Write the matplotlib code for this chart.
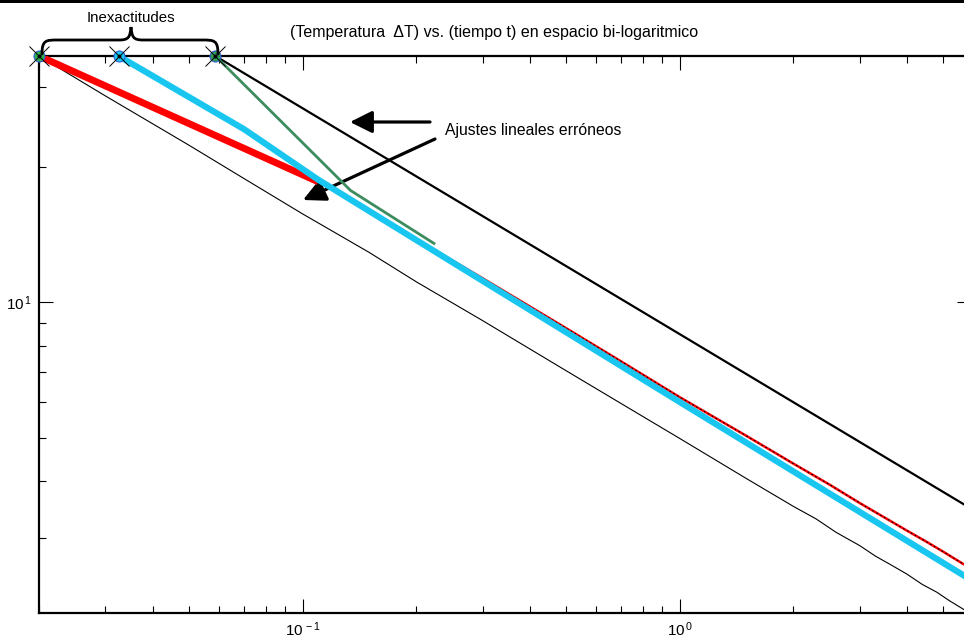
import numpy as np
import matplotlib
matplotlib.use("Agg")
import matplotlib.pyplot as plt
from matplotlib.path import Path
from matplotlib.patches import PathPatch, Rectangle
from matplotlib.ticker import FixedLocator, NullFormatter, FuncFormatter
import matplotlib.transforms as mtransforms

plt.rcParams['font.family'] = ['Liberation Sans', 'DejaVu Sans']
plt.rcParams['mathtext.fontset'] = 'custom'
plt.rcParams['mathtext.rm'] = 'Liberation Sans'
plt.rcParams['mathtext.it'] = 'Liberation Sans:italic'
plt.rcParams['mathtext.bf'] = 'Liberation Sans:bold'
plt.rcParams['mathtext.default'] = 'regular'

# ---- data ----
# measured data, thin black curve
t_data = [0.02, 0.03, 0.04, 0.05, 0.07, 0.1, 0.15, 0.2, 0.3, 0.5, 0.7, 1.0,
          1.5, 2.0, 2.3, 2.6, 3.0, 3.3, 3.6, 4.0, 4.4, 4.8, 5.2, 5.65, 5.95]
T_data = [35.2, 28.7, 24.9, 22.3, 18.8, 15.7, 12.9, 11.1, 9.1, 7.04, 5.95, 4.98,
          4.06, 3.52, 3.30, 3.08, 2.88, 2.73, 2.62, 2.49, 2.36, 2.27, 2.17, 2.08, 2.03]

# red data curve (thin red with black dotted overlay)
t_red = [0.11, 0.15, 0.2, 0.3, 0.5, 0.7, 1.0, 1.5, 2.0, 2.5, 3.0, 3.5, 4.0,
         4.5, 5.0, 5.65, 5.95]
T_red = [18.5, 16.0, 13.8, 11.3, 8.75, 7.38, 6.15, 5.05, 4.38, 3.93, 3.58, 3.32,
         3.11, 2.94, 2.79, 2.62, 2.56]

# erroneous linear fits
t_fit_red = [0.02, 0.11]
T_fit_red = [35.2, 18.5]

t_fit_cyan = [0.0325, 0.07, 0.110, 0.3, 1.0, 5.95]
T_fit_cyan = [35.2, 24.2, 18.7, 11.15, 6.0, 2.41]

t_fit_green = [0.0587, 0.134, 0.223]
T_fit_green = [35.2, 17.7, 13.5]

t_black = [0.0587, 5.95]
T_black = [35.2, 3.47]

# starting points ("Inexactitudes")
t_start = [0.02, 0.0325, 0.0587]
T_start = [35.2, 35.2, 35.2]
start_colors = ['#2FB050', '#19C6F0', '#2E9B57']

xticks_major = [0.1, 1.0]
yticks_major = [10.0]

# ---- figure ----
W, H = 964, 641
fig = plt.figure(figsize=(W / 100, H / 100), dpi=100)
ax = fig.add_axes([39 / W, (H - 613) / H, (971 - 39) / W, (613 - 56) / H])
ax.set_xscale('log')
ax.set_yscale('log')
ax.set_xlim(0.02, 5.92)
ax.set_ylim(2.04, 35.2)

ax.plot(t_data, T_data, color='black', lw=0.8, zorder=2)
ax.plot(t_black, T_black, color='black', lw=1.6, zorder=2)
ax.plot(t_red, T_red, color='red', lw=1.8, zorder=3)
ax.plot(t_red, T_red, color='black', lw=0.8, ls=(0, (1.5, 2.5)), zorder=3)
ax.plot(t_fit_red, T_fit_red, color='red', lw=5.0, solid_capstyle='butt', zorder=4)
ax.plot(t_fit_cyan, T_fit_cyan, color='#19C6F0', lw=4.5, zorder=5)
ax.plot(t_fit_green, T_fit_green, color='#3C8C5E', lw=2.0, zorder=6)

for tx, ty, c in zip(t_start, T_start, start_colors):
    ax.plot([tx], [ty], marker='o', ms=8, mfc=c, mec='#3050E0', mew=0.7,
            clip_on=False, zorder=8)
    ax.plot([tx], [ty], marker='o', ms=1.8, mfc='black', mec='black',
            clip_on=False, zorder=9)
    ax.plot([tx], [ty], marker='x', ms=15, color='black', mew=0.7,
            clip_on=False, zorder=10)

# ticks
def fmt(v, pos):
    e = int(round(np.log10(v)))
    return r'$\mathregular{10^{\,%d}}$' % e

ax.xaxis.set_major_locator(FixedLocator(xticks_major))
ax.yaxis.set_major_locator(FixedLocator(yticks_major))
xminor = [m * 10.0 ** e for e in (-2, -1, 0) for m in range(2, 10)]
yminor = [m * 10.0 ** e for e in (0, 1) for m in range(2, 10)]
ax.xaxis.set_minor_locator(FixedLocator(xminor))
ax.yaxis.set_minor_locator(FixedLocator(yminor))
ax.xaxis.set_major_formatter(FuncFormatter(fmt))
ax.yaxis.set_major_formatter(FuncFormatter(fmt))
ax.xaxis.set_minor_formatter(NullFormatter())
ax.yaxis.set_minor_formatter(NullFormatter())
ax.tick_params(which='both', direction='in', top=True, right=True,
               labelsize=11, width=0.8, colors='black')
ax.tick_params(which='major', length=10, pad=5)
ax.tick_params(which='minor', length=5)
for s in ax.spines.values():
    s.set_linewidth(1.6)

# top black bar
fig.add_artist(Rectangle((0, 1 - 3 / H), 1, 3 / H, transform=fig.transFigure,
                         color='black', lw=0))

# pixel transform (image coords, y down)
pix = mtransforms.Affine2D().scale(1 / W, -1 / H).translate(0, 1) + fig.transFigure

# curly brace
xl, xr, xm = 42, 218, 131
yb, yh, yt = 54, 40, 27
verts = [(xl, yb),
         (xl, yh), (xl + 4, yh), (xl + 16, yh),
         (xm - 12, yh),
         (xm - 2, yh), (xm - 1, yh - 3), (xm, yt),
         (xm + 1, yh - 3), (xm + 2, yh), (xm + 12, yh),
         (xr - 16, yh),
         (xr - 4, yh), (xr, yh), (xr, yb)]
codes = [Path.MOVETO,
         Path.CURVE4, Path.CURVE4, Path.CURVE4,
         Path.LINETO,
         Path.CURVE4, Path.CURVE4, Path.CURVE4,
         Path.CURVE4, Path.CURVE4, Path.CURVE4,
         Path.LINETO,
         Path.CURVE4, Path.CURVE4, Path.CURVE4]
fig.add_artist(PathPatch(Path(verts, codes), transform=pix, fill=False,
                         lw=2.0, color='black', capstyle='round'))

fig.text(131, 18, 'Inexactitudes', transform=pix, ha='center', va='center',
         fontsize=10.8)
fig.text(494, 33, '(Temperatura  \u0394T) vs. (tiempo t) en espacio bi-logaritmico',
         transform=pix, ha='center', va='center', fontsize=11.5)
fig.text(445, 131, 'Ajustes lineales err\u00f3neos', transform=pix, ha='left',
         va='center', fontsize=11.3)

# arrows
arrow_kw = dict(arrowstyle='-|>,head_length=0.9,head_width=0.45', lw=2.3,
                color='black', mutation_scale=15, shrinkA=0, shrinkB=0)
ax.annotate('', xy=(350, H - 122), xytext=(430, H - 122),
            xycoords='figure pixels', textcoords='figure pixels',
            arrowprops=arrow_kw, annotation_clip=False)
ax.annotate('', xy=(303, H - 200), xytext=(435, H - 139),
            xycoords='figure pixels', textcoords='figure pixels',
            arrowprops=arrow_kw, annotation_clip=False)

fig.savefig('out.png', dpi=100)
